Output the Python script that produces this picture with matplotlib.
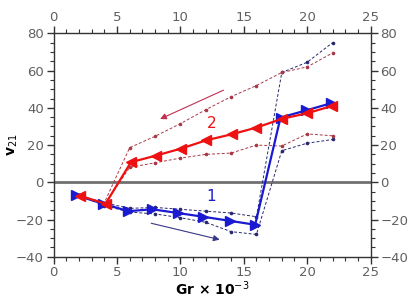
import matplotlib
matplotlib.use("Agg")
import matplotlib.pyplot as plt
from matplotlib.ticker import MultipleLocator

# ---- data ----
gr_blue = [1.8, 3.9, 5.9, 7.8, 9.8, 11.8, 13.9, 15.9, 17.9, 19.9, 21.9]
v_blue = [-7, -11.5, -15.5, -14.5, -16.5, -18.5, -20.7, -22.8, 34.8, 38.6, 42.5]
gr_red = [2.1, 4.1, 6.1, 8.05, 10.05, 12.05, 14.05, 16.0, 18.05, 19.95, 21.95]
v_red = [-7.3, -11.5, 10.8, 14.3, 18.1, 22.6, 25.8, 29.4, 34.2, 37.0, 41.0]

gr_env = [2, 4, 6, 8, 10, 12, 14, 16, 18, 20, 22]
blue_upper = [-7, -11, -14, -13.5, -14.5, -15.5, -16.5, -18.5, 59, 64.5, 75]
blue_lower = [-7, -12.5, -16, -17, -19, -21.5, -26.5, -28, 17, 21, 23]
red_upper = [-7, -11, 18.6, 24.7, 31.5, 39, 46, 52, 59, 62, 69.5]
red_lower = [-7, -12, 8, 10.5, 13, 15, 15.7, 20, 19.5, 26, 25]

# annotation arrows (data coords): start, end
red_arrow = ((13.4, 49.5), (8.4, 34.0))
blue_arrow = ((7.7, -22.0), (13.1, -30.8))

x_ticks = [0, 5, 10, 15, 20, 25]
y_ticks = [-40, -20, 0, 20, 40, 60, 80]

# ---- plot ----
fig = plt.figure(figsize=(4.09, 3.01), dpi=100)
ax = fig.add_axes([0.131, 0.147, 0.775, 0.742])

blue = "#1a1ad0"
red = "#ee1111"
blue_env = "#28286e"
red_env = "#a83a48"

ax.axhline(0, color="#707070", lw=2.0, zorder=1)

ax.plot(gr_env, blue_upper, ls=(0, (3, 2)), lw=0.7, color=blue_env,
        marker="o", ms=1.6, zorder=2)
ax.plot(gr_env, blue_lower, ls=(0, (3, 2)), lw=0.7, color=blue_env,
        marker="o", ms=1.6, zorder=2)
ax.plot(gr_env, red_upper, ls=(0, (3, 2)), lw=0.7, color=red_env,
        marker="o", ms=1.6, zorder=2)
ax.plot(gr_env, red_lower, ls=(0, (3, 2)), lw=0.7, color=red_env,
        marker="o", ms=1.6, zorder=2)

ax.plot(gr_blue, v_blue, color=blue, lw=1.6, marker=">", ms=6.5, zorder=3)
ax.plot(gr_red, v_red, color=red, lw=1.6, marker="<", ms=6.5, zorder=4)

ax.annotate("", xy=red_arrow[1], xytext=red_arrow[0],
            arrowprops=dict(arrowstyle="-|>", color="#c03050", lw=0.8,
                            mutation_scale=9, shrinkA=0, shrinkB=0))
ax.annotate("", xy=blue_arrow[1], xytext=blue_arrow[0],
            arrowprops=dict(arrowstyle="-|>", color="#383888", lw=0.8,
                            mutation_scale=9, shrinkA=0, shrinkB=0))

ax.text(12.5, 31.5, "2", color=red, fontsize=11, ha="center", va="center")
ax.text(12.4, -7.5, "1", color=blue, fontsize=11, ha="center", va="center")

ax.set_xlim(0, 25)
ax.set_ylim(-40, 80)
ax.set_xticks(x_ticks)
ax.set_yticks(y_ticks)
ax.xaxis.set_minor_locator(MultipleLocator(1))
ax.yaxis.set_minor_locator(MultipleLocator(5))

tick_color = "#606060"
ax.tick_params(which="both", direction="out", color="#333333",
               labelcolor=tick_color, labelsize=9.5,
               top=True, right=True, labeltop=True, labelright=True)
ax.tick_params(which="major", length=5, width=1, pad=2)
ax.tick_params(which="minor", length=3, width=0.8)
for s in ax.spines.values():
    s.set_color("#333333")
    s.set_linewidth(1.0)

ax.set_xlabel("Gr × 10$^{-3}$", fontsize=10, fontweight="bold")
ax.set_ylabel("v$_{21}$", fontsize=10, fontweight="bold")
ax.xaxis.set_label_coords(0.5, -0.1)
ax.yaxis.set_label_coords(-0.105, 0.5)

fig.savefig("out.png", dpi=100)
